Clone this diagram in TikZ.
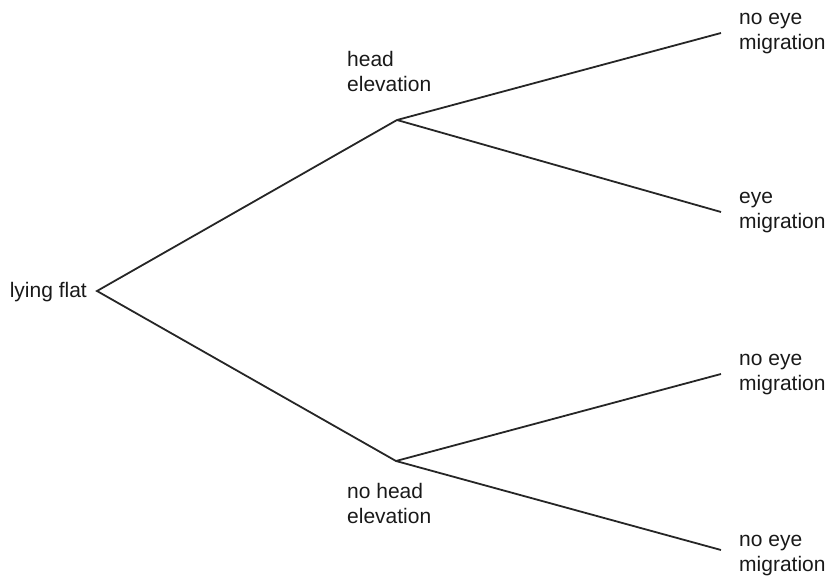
\documentclass[tikz,border=0pt]{standalone}
\usepackage{fontspec}
\setmainfont{Liberation Sans}
\usetikzlibrary{positioning}

\begin{document}
\begin{tikzpicture}[x=1pt, y=-1pt, branch/.style={line width=1.8pt, draw=black!85}, lbl/.style={font=\fontsize{21}{25}\selectfont, align=left, inner sep=0pt, text=black!90}]
\useasboundingbox (0,0) rectangle (828,578);
% fork points
\coordinate (flat) at (97,291);
\coordinate (up) at (397,120);
\coordinate (down) at (396,461);
\coordinate (upA) at (721,33);
\coordinate (upB) at (721,212);
\coordinate (downA) at (721,374);
\coordinate (downB) at (721,550);
\draw[branch] (upA) -- (up) -- (flat) -- (down) -- (downB);
\draw[branch] (up) -- (upB); \draw[branch] (down) -- (downA);
% labels (base = last line)
\node[lbl, anchor=base east] (flatlbl) at (87,297) {lying flat};
\node[lbl, anchor=base west] (uplbl) at (347,92) {head\\elevation};
\node[lbl, anchor=base west] (downlbl) at (347,523) {no head\\elevation};
\node[lbl, anchor=base west] (upAlbl) at (739,50) {no eye\\migration};
\node[lbl, anchor=base west] (upBlbl) at (739,228) {eye\\migration};
\node[lbl, anchor=base west] (downAlbl) at (739,390) {no eye\\migration};
\node[lbl, anchor=base west] (downBlbl) at (739,571) {no eye\\migration};
\end{tikzpicture}
\end{document}
